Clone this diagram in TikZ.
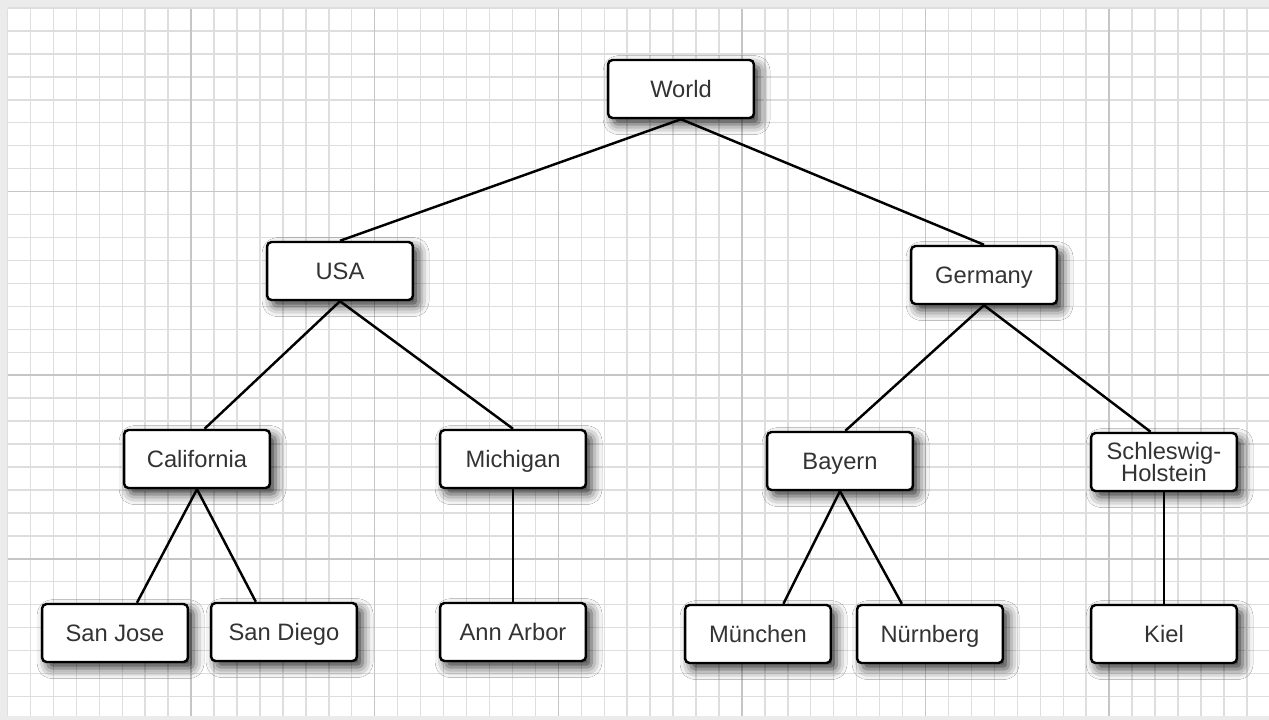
\documentclass[tikz,border=0pt]{standalone}
\usepackage{fontspec}
\setmainfont{Liberation Sans}
\usepackage{tikz}
\usetikzlibrary{shadows.blur}
\definecolor{minorgrid}{HTML}{DEDEDE}
\definecolor{majorgrid}{HTML}{C6C6C6}
\definecolor{labeltext}{HTML}{333333}

\begin{document}
\begin{tikzpicture}[x=0.02cm,y=-0.02cm,
    city/.style={draw=black,line width=1.4pt,fill=white,rounded corners=2.5pt,
      align=center,text=labeltext,font=\fontsize{13.5}{13}\selectfont,
      minimum width=83pt,minimum height=33pt,inner sep=2pt,
      text height=2.3ex,text depth=0.5ex,
      blur shadow={shadow xshift=3.2pt,shadow yshift=-3.5pt,shadow blur radius=6pt,shadow opacity=80}},
    twoline/.style={text height=,text depth=},
    link/.style={line width=1.4pt,black}]
    \useasboundingbox (0,0) rectangle (1269,720);
    \fill[black!8] (0,0) rectangle (1269,720);
    \fill[white] (8,9) rectangle (1269,716);
    % graph paper
    \foreach \i in {0,...,54} {
      \draw[minorgrid,line width=0.8pt] (7.5+22.95*\i,9) -- (7.5+22.95*\i,716);
    }
    \foreach \j in {0,...,30} {
      \draw[minorgrid,line width=0.8pt] (8,8+22.95*\j) -- (1269,8+22.95*\j);
    }
    \foreach \i in {1,...,6} {
      \draw[majorgrid,line width=0.9pt] (7.5+183.6*\i,9) -- (7.5+183.6*\i,716);
    }
    \foreach \j in {1,...,3} {
      \draw[majorgrid,line width=0.9pt] (8,8+183.6*\j) -- (1269,8+183.6*\j);
    }

    \node[city] (w) at (681,89) {World};
    \node[city] (usa) at (340,271) {USA};
    \node[city] (ger) at (984,275) {Germany};
    \node[city] (cal) at (197,459) {California};
    \node[city] (mi) at (513,459) {Michigan};
    \node[city] (by) at (840,461) {Bayern};
    \node[city,twoline] (sh) at (1164,462) {Schleswig-\\Holstein};
    \node[city] (sj) at (115,633) {San Jose};
    \node[city] (sd) at (284,632) {San Diego};
    \node[city] (aa) at (513,632) {Ann Arbor};
    \node[city] (mu) at (758,634) {München};
    \node[city] (nu) at (930,634) {Nürnberg};
    \node[city] (ki) at (1164,634) {Kiel};

    \draw[link] (w.south) -- (usa.north);
    \draw[link] (w.south) -- (ger.north);
    \draw[link] (usa.south) -- (cal.76);
    \draw[link] (usa.south) -- (mi.north);
    \draw[link] (ger.south) -- (by.80);
    \draw[link] (ger.south) -- (sh.114);
    \draw[link] (cal.south) -- (sj.54);
    \draw[link] (cal.south) -- (sd.133);
    \draw[link] (mi.south) -- (aa.north);
    \draw[link] (by.south) -- (mu.50);
    \draw[link] (by.south) -- (nu.133);
    \draw[link] (sh.south) -- (ki.north);
  \end{tikzpicture}
\end{document}
